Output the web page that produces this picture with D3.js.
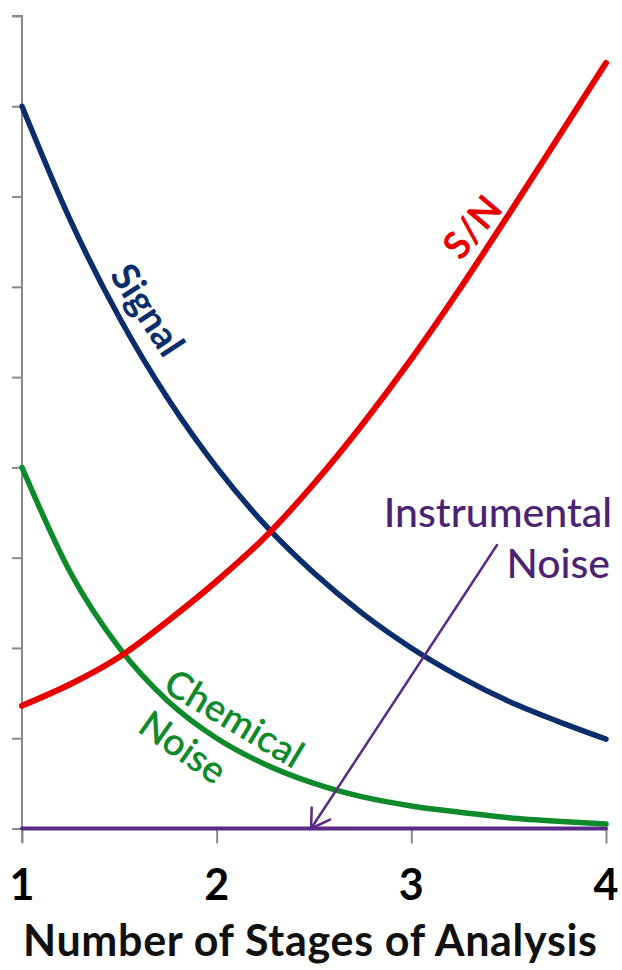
<!DOCTYPE html>
<html>
<head>
<meta charset="utf-8">
<script src="https://cdn.jsdelivr.net/npm/d3@7"></script>
<style>
  html, body { margin: 0; padding: 0; background: #fff; }
  svg { display: block; }
  text { font-family: Lato, "Open Sans", sans-serif; }
</style>
</head>
<body>
<svg id="chart" width="622" height="970"></svg>
<script>
// ---- data ----
const stages = [1, 1.25, 1.5, 1.75, 2, 2.25, 2.5, 2.75, 3, 3.25, 3.5, 3.75, 4];
const signal = [8.0, 6.73, 5.66, 4.76, 4.0, 3.36, 2.83, 2.38, 2.0, 1.68, 1.41, 1.19, 0.99];
const snRatio = [1.36, 1.60, 1.90, 2.30, 2.74, 3.23, 3.82, 4.48, 5.20, 5.98, 6.80, 7.64, 8.48];
const chemicalNoise = [4.0, 2.83, 2.0, 1.41, 1.0, 0.71, 0.50, 0.35, 0.25, 0.18, 0.12, 0.08, 0.05];
const instrumentalNoise = [0, 0, 0, 0, 0, 0, 0, 0, 0, 0, 0, 0, 0];
const xTicks = [1, 2, 3, 4];
const yTicks = [0, 1, 2, 3, 4, 5, 6, 7, 8, 9];
const xTitle = "Number of Stages of Analysis";

// ---- scales ----
const svg = d3.select("#chart");
const x = d3.scaleLinear().domain([1, 4]).range([22, 606]);
const y = d3.scaleLinear().domain([0, 9]).range([828.5, 16]);

// ---- axes ----
const axisColor = "#8a8a8a";
const yAxis = svg.append("g").attr("transform", `translate(${x(1)},0)`)
  .call(d3.axisLeft(y).tickValues(yTicks).tickSize(10).tickFormat(""));
const xAxis = svg.append("g").attr("transform", `translate(0,${y(0)})`)
  .call(d3.axisBottom(x).tickValues(xTicks).tickSize(15).tickFormat(""));
[yAxis, xAxis].forEach(g => {
  g.select(".domain").attr("stroke", axisColor).attr("stroke-width", 2);
  g.selectAll(".tick line").attr("stroke", axisColor).attr("stroke-width", 2);
});
yAxis.select(".domain").attr("d", `M-10,${y(9)}H0V${y(0) + 14}`);
xAxis.select(".domain").attr("d", `M${x(1)},0H${x(4)}`);

// tick labels
svg.append("g").selectAll("text").data(xTicks).join("text")
  .attr("x", d => x(d)).attr("y", 900)
  .attr("text-anchor", "middle")
  .attr("font-size", 43).attr("font-weight", 700).attr("fill", "#000")
  .text(d => d);

svg.append("text")
  .attr("x", 310).attr("y", 956)
  .attr("text-anchor", "middle")
  .attr("font-size", 43).attr("font-weight", 700).attr("fill", "#111")
  .attr("textLength", 574).attr("lengthAdjust", "spacing")
  .text(xTitle);

// ---- lines ----
const line = vals => d3.line()
  .x((d, i) => x(stages[i]))
  .y(d => y(d))
  .curve(d3.curveMonotoneX)(vals);

const series = [
  { vals: instrumentalNoise, color: "#5b2a86", w: 4 },
  { vals: chemicalNoise, color: "#0f8a2a", w: 5.5 },
  { vals: signal, color: "#0b2d6b", w: 5.5 },
  { vals: snRatio, color: "#e80000", w: 6 }
];
svg.append("g").selectAll("path").data(series).join("path")
  .attr("d", d => line(d.vals))
  .attr("fill", "none")
  .attr("stroke", d => d.color)
  .attr("stroke-width", d => d.w)
  .attr("stroke-linecap", "round");

// ---- annotation arrow (data units) ----
const arrowFrom = [3.44, 3.14];
const arrowTo = [2.485, 0];
const ax0 = x(arrowFrom[0]), ay0 = y(arrowFrom[1]);
const ax1 = x(arrowTo[0]), ay1 = y(arrowTo[1]);
const ang = Math.atan2(ay0 - ay1, ax0 - ax1);
const bl = 21, spread = 0.55;
const arrow = svg.append("g").attr("stroke", "#5b2a86").attr("stroke-width", 2.5).attr("fill", "none")
  .attr("stroke-linecap", "round");
arrow.append("line").attr("x1", ax0).attr("y1", ay0).attr("x2", ax1).attr("y2", ay1);
arrow.append("path").attr("d",
  `M${ax1 + bl * Math.cos(ang - spread)},${ay1 + bl * Math.sin(ang - spread)}L${ax1},${ay1}L${ax1 + bl * Math.cos(ang + spread)},${ay1 + bl * Math.sin(ang + spread)}`);

// ---- labels ----
function label(txt, cx, cy, rot, color, size, weight) {
  svg.append("text")
    .attr("transform", `translate(${cx},${cy}) rotate(${rot})`)
    .attr("text-anchor", "middle")
    .attr("dominant-baseline", "central")
    .attr("font-size", size).attr("font-weight", weight)
    .attr("fill", color)
    .text(txt);
}
label("Signal", 149, 309, 57, "#0b2d6b", 38, 700);
label("S/N", 471, 226, -50, "#e80000", 38, 700);
label("Chemical", 235, 717, 31, "#0f8a2a", 38, 600);
label("Noise", 184, 746, 35, "#0f8a2a", 38, 600);

svg.append("text").attr("x", 612).attr("y", 527).attr("text-anchor", "end")
  .attr("font-size", 41).attr("font-weight", 500).attr("fill", "#4a2373").text("Instrumental");
svg.append("text").attr("x", 610).attr("y", 578).attr("text-anchor", "end")
  .attr("font-size", 41).attr("font-weight", 500).attr("fill", "#4a2373").text("Noise");
</script>
</body>
</html>
